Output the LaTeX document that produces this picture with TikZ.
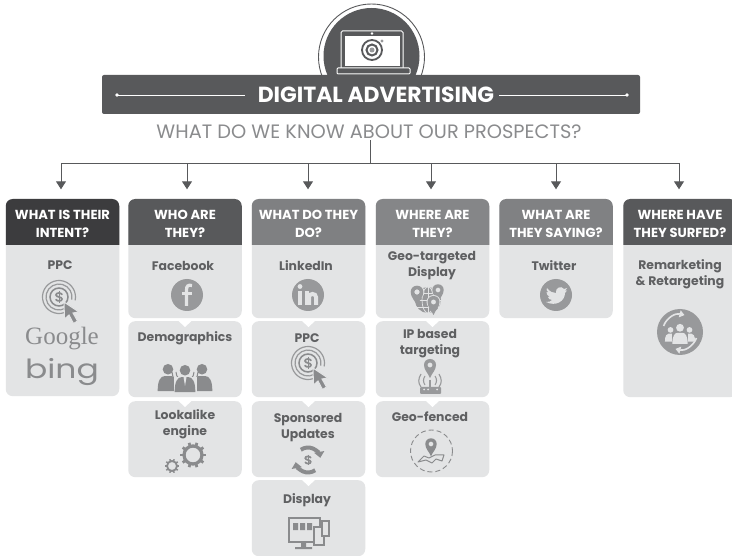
\documentclass[tikz,border=0pt]{standalone}
\usepackage{fontspec}
\usetikzlibrary{arrows.meta}
\setmainfont{Poppins}
\newfontfamily\gserif{Liberation Serif}
\definecolor{ink}{HTML}{58595B}
\definecolor{itemc}{HTML}{5F6062}
\definecolor{cardfill}{HTML}{E3E4E5}
\definecolor{icon}{HTML}{98999B}
\definecolor{icond}{HTML}{8A8B8D}
\definecolor{subt}{HTML}{8A8B8D}
\definecolor{hA}{HTML}{3C3C3E}
\definecolor{hB}{HTML}{58595B}
\definecolor{hC}{HTML}{7F8082}
\definecolor{hD}{HTML}{858688}
\definecolor{hE}{HTML}{808183}
\tikzset{
  card/.style={fill=cardfill,rounded corners=7pt,minimum width=113.5pt,inner sep=0pt,anchor=north},
  headtext/.style={text=white,font=\fontsize{13.1}{18}\selectfont\bfseries,align=center,minimum width=113.5pt,minimum height=46pt,inner sep=0pt},
  item/.style={text=itemc,font=\fontsize{12.4}{16}\selectfont\bfseries,align=center,inner sep=0pt},
  arr/.style={draw=ink,line width=1pt,-{Triangle[length=8pt,width=10pt]},shorten >=11pt},
  bus/.style={draw=ink,line width=.9pt},
  person/.pic={
    \fill (0,-5) circle (4.6);
    \fill (-9,14) .. controls (-9,4) and (-6,1) .. (-3,1) -- (3,1) .. controls (6,1) and (9,4) .. (9,14) -- cycle;
  },
  pin/.pic={
    \fill[even odd rule] (0,13) .. controls (-2,8) and (-6,5) .. (-6,0) .. controls (-6,-3.5) and (-3.5,-6) .. (0,-6) .. controls (3.5,-6) and (6,-3.5) .. (6,0) .. controls (6,5) and (2,8) .. (0,13) -- cycle (0,0) circle (2.6);
  },
  dollar/.pic={
    \draw[line width=1.7pt,line cap=round] (3,-2.6) .. controls (2,-4.5) and (-3.2,-4.5) .. (-3,-2) .. controls (-2.8,.4) and (3,-.4) .. (3,2) .. controls (3.2,4.5) and (-2,4.5) .. (-3,2.6);
    \draw[line width=1pt] (0,-6) -- (0,6);
  },
  ppc/.pic={
    \draw[icon,line width=1.2pt] (60:16.5) arc (60:372:16.5);
    \draw[icon,line width=1.2pt] (60:13) arc (60:372:13);
    \draw[icond,line width=1.5pt] (0,0) circle (9);
    \pic[icond] {dollar};
    \fill[icond,draw=cardfill,line width=1pt] (5,5) -- (5.5,22) -- (10,18) -- (14.5,26.5) -- (18.5,24) -- (14,16) -- (20,15) -- cycle;
  },
  gear/.pic={
    \draw[icond,line width=.36*\pgfkeysvalueof{/tikz/gearr}pt] (0,0) circle (\pgfkeysvalueof{/tikz/gearr});
    \foreach \a in {0,36,...,324}
      \draw[icond,line width=.3*\pgfkeysvalueof{/tikz/gearr}pt] (\a:\pgfkeysvalueof{/tikz/gearr}) -- (\a:1.42*\pgfkeysvalueof{/tikz/gearr});
  },
  gearr/.initial=8,
}
\begin{document}
\begin{tikzpicture}[x=1pt,y=-1pt]
\clip (0,0) rectangle (732,556);
\fill[white] (0,0) rectangle (732,556);

% emblem
\draw[ink,line width=.9pt,fill=white] (371.5,57) circle (53);
\fill[ink] (371.5,56) circle (48);
\fill[ink] (341,31) rectangle (403,68);
\draw[white,line width=1pt,rounded corners=1.5pt] (341,68) -- (341,31) -- (403,31) -- (403,68);
\fill[white] (345,36) rectangle (400,66);
\fill[white] (372,33.5) circle (1.4);
\draw[white,line width=1pt,fill=ink,rounded corners=1pt] (337,68) rectangle (410,74);
\draw[ink,line width=1.8pt] (372,50) circle (10);
\draw[ink,line width=2pt] (372,50) circle (5.5);
\fill[icon] (372,50) circle (2.5);
\fill[icon] (382,41) circle (1.6);

% banner
\node[fill=ink,rounded corners=2pt,minimum width=538pt,minimum height=39pt,inner sep=0pt] (banner) at (371,94.5) {};
\node[text=white,font=\fontsize{21.9}{22}\selectfont\bfseries,inner sep=0pt] (title) at (376,94.5) {DIGITAL ADVERTISING};
\coordinate (lA) at (117,95); \coordinate (lB) at (245,95); \coordinate (rA) at (499,95); \coordinate (rB) at (627,95);
\draw[white,line width=.8pt] (lA) -- (lB) (rA) -- (rB);
\fill[white] (lA) circle (1.8) (rB) circle (1.8);

\node[text=subt,font=\fontsize{19.35}{19.5}\selectfont,inner sep=0pt] (sub) at (369,132) {WHAT DO WE KNOW ABOUT OUR PROSPECTS?};

% cards
\node[card,minimum height=197pt] (c1a) at (62.5,199) {};
\node[card,minimum height=119pt] (c2a) at (185,199) {};
\node[card,minimum height=76pt] (c2b) at (185,321) {};
\node[card,minimum height=76pt] (c2c) at (185,401) {};
\node[card,minimum height=119pt] (c3a) at (308.5,199) {};
\node[card,minimum height=76pt] (c3b) at (308.5,321) {};
\node[card,minimum height=76pt] (c3c) at (308.5,401) {};
\node[card,minimum height=76pt] (c3d) at (308.5,480) {};
\node[card,minimum height=119pt] (c4a) at (432.5,199) {};
\node[card,minimum height=76pt] (c4b) at (432.5,321) {};
\node[card,minimum height=76pt] (c4c) at (432.5,401) {};
\node[card,minimum height=119pt] (c5a) at (556,199) {};
\node[card,minimum height=198pt] (c6a) at (680,199) {};
\foreach \nx/\ny in {185/321,185/401,308.5/321,308.5/401,308.5/480,432.5/321,432.5/401}
  \fill[white] (\nx-7,\ny-.5) -- (\nx+7,\ny-.5) -- (\nx,\ny+6) -- cycle;

% headers
\foreach \cx/\cc in {62.5/hA,185/hB,308.5/hC,432.5/hD,556/hE,680/hB}
  \fill[\cc] (\cx-56.75,245) -- (\cx-56.75,206) arc (180:270:7) -- (\cx+49.75,199) arc (270:360:7) -- (\cx+56.75,245) -- cycle;
\node[headtext] (h1) at (62.5,223.5) {WHAT IS THEIR\\INTENT?};
\node[headtext] (h2) at (185,223.5) {WHO ARE\\THEY?};
\node[headtext] (h3) at (308.5,223.5) {WHAT DO THEY\\DO?};
\node[headtext] (h4) at (432.5,223.5) {WHERE ARE\\THEY?};
\node[headtext] (h5) at (556,223.5) {WHAT ARE\\THEY SAYING?};
\node[headtext] (h6) at (680,223.5) {WHERE HAVE\\THEY SURFED?};

% connectors
\coordinate (bA) at (61,163.5); \coordinate (bB) at (187,163.5); \coordinate (bC) at (308,163.5);
\coordinate (bD) at (431,163.5); \coordinate (bE) at (556,163.5); \coordinate (bF) at (679,163.5);
\coordinate (tr) at (370,163.5);
\draw[bus] (bA) -- (bF);
\draw[bus] (sub.south -| tr) ++(0,1) -- (tr);
\draw[arr] (bA) -- (bA |- h1.north);
\draw[arr] (bB) -- (bB |- h2.north);
\draw[arr] (bC) -- (bC |- h3.north);
\draw[arr] (bD) -- (bD |- h4.north);
\draw[arr] (bE) -- (bE |- h5.north);
\draw[arr] (bF) -- (bF |- h6.north);

% texts
\node[item] (t11) at (60,265.5) {PPC};
\node[item] (t21) at (183,265.5) {Facebook};
\node[item] (t22) at (185,338) {Demographics};
\node[item] (t23) at (185,424.5) {Lookalike\\engine};
\node[item] (t31) at (306,265.5) {LinkedIn};
\node[item] (t32) at (307,338) {PPC};
\node[item] (t33) at (308,427.5) {Sponsored\\Updates};
\node[item] (t34) at (307,500) {Display};
\node[item] (t41) at (432,265.5) {Geo-targeted\\Display};
\node[item] (t42) at (430,343.5) {IP based\\targeting};
\node[item] (t43) at (430,417) {Geo-fenced};
\node[item] (t51) at (554,265.5) {Twitter};
\node[item] (t61) at (680,274.5) {Remarketing\\\& Retargeting};

% col 1 logos
\pic at (59,297) {ppc};
\node[text=icond,font=\fontsize{25}{25}\selectfont\gserif,inner sep=0pt] (goog) at (62,339) {Google};
\node[text=icond,font=\fontsize{33}{33}\selectfont,inner sep=0pt] (bing) at (62,372) {\scalebox{1}[.8]{bing}};

% f
\fill[icon] (187,295) circle (16);
\draw[cardfill,line width=3.2pt] (192,285.5) .. controls (188,284.5) and (186.5,286) .. (186.5,290) -- (186.5,306);
\draw[cardfill,line width=2.8pt] (182,293.5) -- (191.5,293.5);

% demographics
\begin{scope}[icond]
\pic[scale=1.15] at (168,375) {person};
\pic[scale=1.15] at (202,375) {person};
\end{scope}
\draw[icond,line width=1pt] (172,372) arc (180:0:13) (176,372) arc (180:0:9);
\fill[cardfill] (173.5,377.5) rectangle (196.5,393);
\pic[icond,scale=1.15] at (185,376) {person};
\fill[cardfill] (183.5,377) -- (186.5,377) -- (185,386) -- cycle;

% gears
\pic[gearr=9] at (193,455) {gear};
\pic[gearr=5] at (172,466) {gear};

% linkedin
\fill[icon] (308,295) circle (16);
\fill[cardfill] (298,291) rectangle (302,305);
\fill[cardfill] (300,286.5) circle (2.4);
\fill[cardfill] (305,291) rectangle (309,305);
\draw[cardfill,line width=4pt] (309,305) -- (309,297) .. controls (309,293) and (316,293) .. (316,297) -- (316,305);

% PPC col 3
\pic at (308,363) {ppc};

% sync
\pic[icond,scale=.9] at (308,460) {dollar};
\draw[icond,line width=4pt,-{Triangle[length=6pt,width=10pt]}] (308,460) ++(55:12.5) arc (55:170:12.5);
\draw[icond,line width=4pt,-{Triangle[length=6pt,width=10pt]}] (308,460) ++(235:12.5) arc (235:350:12.5);

% display
\draw[icond,line width=1.4pt] (289,518) rectangle (320,542);
\fill[icond] (293,523) rectangle (298,530) (300,523) rectangle (305,530) (307,523) rectangle (312,530);
\fill[icond] (301,542) rectangle (306,547) (295,547) rectangle (312,549);
\draw[icond,line width=1.1pt,fill=cardfill] (314,527) rectangle (324,545);
\draw[icond,line width=1.1pt,fill=cardfill] (322,521) rectangle (329,536);

% geo-targeted
\fill[icon] (428,300) circle (13);
\draw[cardfill,line width=.7pt] (428,287) -- (428,313) (415,300) -- (441,300) (417,293) -- (439,293) (417,307) -- (439,307);
\draw[cardfill,line width=.7pt] (428,300) ellipse (6 and 13);
\foreach \px/\py/\ps in {417/292/1.05,438/290/.95,433.5/302/1}{
  \fill[cardfill] (\px,\py) circle (7*\ps);
  \pic[icon,scale=\ps] at (\px,\py) {pin};
}

% IP targeting
\pic[icon] at (430,365) {pin};
\draw[icon,line width=1.3pt] (430,380) -- (430,387);
\draw[icon,line width=1.1pt] (425,376) .. controls (423,379) and (423,382) .. (425,385);
\draw[icon,line width=1.1pt] (435,376) .. controls (437,379) and (437,382) .. (435,385);
\draw[icon,line width=1.1pt] (421,374) .. controls (418,379) and (418,383) .. (421,387);
\draw[icon,line width=1.1pt] (439,374) .. controls (442,379) and (442,383) .. (439,387);
\fill[icon,rounded corners=1pt] (420,387) rectangle (441,394);
\fill[cardfill] (424,389.5) circle (1) (428,389.5) circle (1) (437,389.5) circle (1);

% geo-fenced
\draw[icond,line width=.9pt,dash pattern=on 5pt off 3pt] (431.5,451) circle (21);
\pic[icond,scale=.95] at (431,444) {pin};
\draw[icond,line width=1pt,line join=round] (418,462) -- (424,456) -- (429,458) -- (435,455) -- (444,455) -- (442,461) -- (436,459) -- (432,463) -- (426,460) -- cycle;

% twitter
\fill[icon] (556,295) circle (16);
\begin{scope}[shift={(556,295)}]
\fill[cardfill] (-9,-7) .. controls (-6,-3) and (-3,-2) .. (0,-2) .. controls (-1,-7) and (5,-10) .. (8,-6) -- (11,-7) -- (9,-4) -- (11,-4.5) -- (9,-2) .. controls (9,6) and (0,12) .. (-10,7) .. controls (-7,7) and (-5,6.5) .. (-4,5) .. controls (-6,5) and (-8,3.5) .. (-8,2) -- (-6,2) .. controls (-8,1) and (-10,-1) .. (-9.5,-3) -- (-7.5,-2.5) .. controls (-9.5,-4) and (-10,-6) .. (-9,-7) -- cycle;
\end{scope}

% remarketing
\fill[icon] (680,332) circle (23);
\draw[cardfill,line width=1.6pt,-{Triangle[length=5pt,width=7pt]}] (680,332) ++(20:17.5) arc (20:105:17.5);
\draw[cardfill,line width=1.6pt,-{Triangle[length=5pt,width=7pt]}] (680,332) ++(200:17.5) arc (200:285:17.5);
\begin{scope}[cardfill]
\pic[scale=.62] at (670.5,333) {person};
\pic[scale=.62] at (689.5,333) {person};
\end{scope}
\fill[icon] (672,333) rectangle (688,345);
\pic[cardfill,scale=.85] at (680,332) {person};
\end{tikzpicture}
\end{document}
